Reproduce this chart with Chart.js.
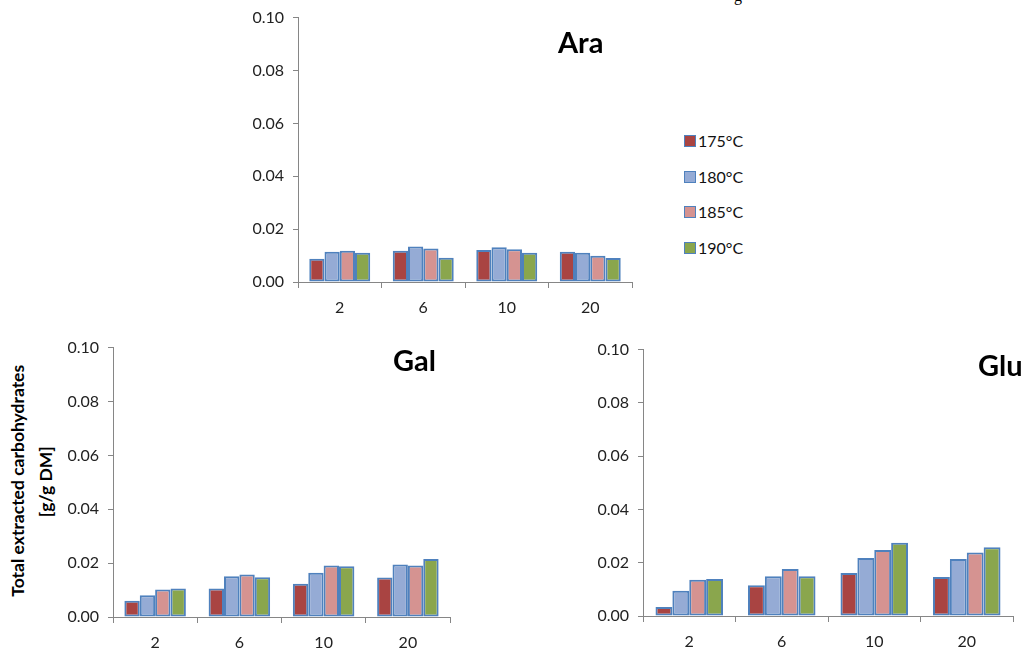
<!DOCTYPE html>
<html>
<head>
<meta charset="utf-8">
<script src="https://cdn.jsdelivr.net/npm/chart.js@4/dist/chart.umd.min.js"></script>
<style>
	body { margin: 0; background: #fff; width: 1028px; height: 649px; overflow: hidden; position: relative; font-family: Lato, sans-serif; }
	canvas { position: absolute; }
	.title { position: absolute; font: bold 29px Lato, sans-serif; line-height: 1; color: #000; white-space: nowrap; }
	.ytitle { position: absolute; font: bold 17.5px Lato, sans-serif; color: #000; white-space: nowrap; transform: rotate(-90deg); transform-origin: center center; text-align: center; line-height: 1; }
	.legend { position: absolute; left: 684px; top: 131px; font: 16px Lato, sans-serif; color: #111; }
	.legend div { height: 35.5px; display: flex; align-items: flex-start; }
	.legend span.box { display: inline-block; width: 10px; height: 10px; border: 1.5px solid #4F81BD; margin: 4px 2px 0 0; }
	.cut { position: absolute; left: 734px; top: -13px; font: 16px "Liberation Serif", serif; }
</style>
</head>
<body>
<div class="cut">g</div>
<canvas id="araChart" width="400" height="319" style="left:240px;top:-1px;width:400px;height:319px"></canvas>
<canvas id="galChart" width="400" height="320" style="left:60px;top:329px;width:400px;height:320px"></canvas>
<canvas id="gluChart" width="438" height="318" style="left:590px;top:331px;width:438px;height:318px"></canvas>
<div class="title" style="left:558px;top:27px">Ara</div>
<div class="title" style="left:393px;top:345px">Gal</div>
<div class="title" style="left:978px;top:350px">Glu</div>
<div class="ytitle" style="left:-132px;top:472px;width:300px">Total extracted carbohydrates</div>
<div class="ytitle" style="left:-104px;top:473px;width:300px">[g/g DM]</div>
<div class="legend" id="legend"></div>
<script>
// time categories and temperature series
var times = ['2', '6', '10', '20'];
var temps = ['175°C', '180°C', '185°C', '190°C'];
var colors = ['#A94442', '#95ABD5', '#D59391', '#8AA64D'];

// values per temperature, one entry per time
var ara175 = [0.0088, 0.0118, 0.0121, 0.0114];
var ara180 = [0.0114, 0.0134, 0.0131, 0.0111];
var ara185 = [0.0118, 0.0127, 0.0124, 0.0099];
var ara190 = [0.0111, 0.0092, 0.0111, 0.0091];

var gal175 = [0.0060, 0.0106, 0.0123, 0.0147];
var gal180 = [0.0081, 0.0151, 0.0164, 0.0195];
var gal185 = [0.0102, 0.0158, 0.0191, 0.0191];
var gal190 = [0.0106, 0.0148, 0.0188, 0.0215];

var glu175 = [0.0034, 0.0115, 0.0161, 0.0146];
var glu180 = [0.0095, 0.0149, 0.0218, 0.0214];
var glu185 = [0.0136, 0.0176, 0.0248, 0.0238];
var glu190 = [0.0139, 0.0149, 0.0275, 0.0258];

var yTicks = [0, 0.02, 0.04, 0.06, 0.08, 0.10];

var axisColor = '#868686';
var tickFont = { family: 'Lato', size: 16 };

function makeChart(id, series, yWidth, xHeight, padRight) {
	var ctx = document.getElementById(id).getContext('2d');
	return new Chart(ctx, {
		type: 'bar',
		data: {
			labels: times,
			datasets: series.map(function(vals, i) {
				return {
					label: temps[i],
					data: vals,
					backgroundColor: colors[i],
					borderColor: '#4F81BD',
					borderWidth: 2,
					borderSkipped: false,
					categoryPercentage: 0.73,
					barPercentage: 1.0
				};
			})
		},
		options: {
			responsive: false,
			animation: false,
			layout: { padding: { top: 4, right: padRight, left: 0, bottom: 0 } },
			plugins: { legend: { display: false }, tooltip: { enabled: false } },
			scales: {
				x: {
					grid: { offset: true, drawOnChartArea: false, tickLength: 6, color: axisColor },
					border: { color: axisColor },
					ticks: { font: tickFont, color: '#222', padding: 10 },
					afterFit: function(scale) { scale.height = xHeight; }
				},
				y: {
					min: yTicks[0],
					max: yTicks[yTicks.length - 1],
					afterBuildTicks: function(scale) {
						scale.ticks = yTicks.map(function(v) { return { value: v }; });
					},
					grid: { drawOnChartArea: false, tickLength: 5, color: axisColor },
					border: { color: axisColor },
					ticks: {
						font: tickFont,
						color: '#222',
						padding: 9,
						callback: function(v) { return v.toFixed(2); }
					},
					afterFit: function(scale) { scale.width = yWidth; }
				}
			}
		}
	});
}

makeChart('araChart', [ara175, ara180, ara185, ara190], 58, 36, 8);
makeChart('galChart', [gal175, gal180, gal185, gal190], 53, 32, 10);
makeChart('gluChart', [glu175, glu180, glu185, glu190], 53, 33, 15);

// legend built from the series names
var legend = document.getElementById('legend');
temps.forEach(function(t, i) {
	var row = document.createElement('div');
	row.innerHTML = '<span class="box" style="background:' + colors[i] + '"></span>' + t;
	legend.appendChild(row);
});
</script>
</body>
</html>
